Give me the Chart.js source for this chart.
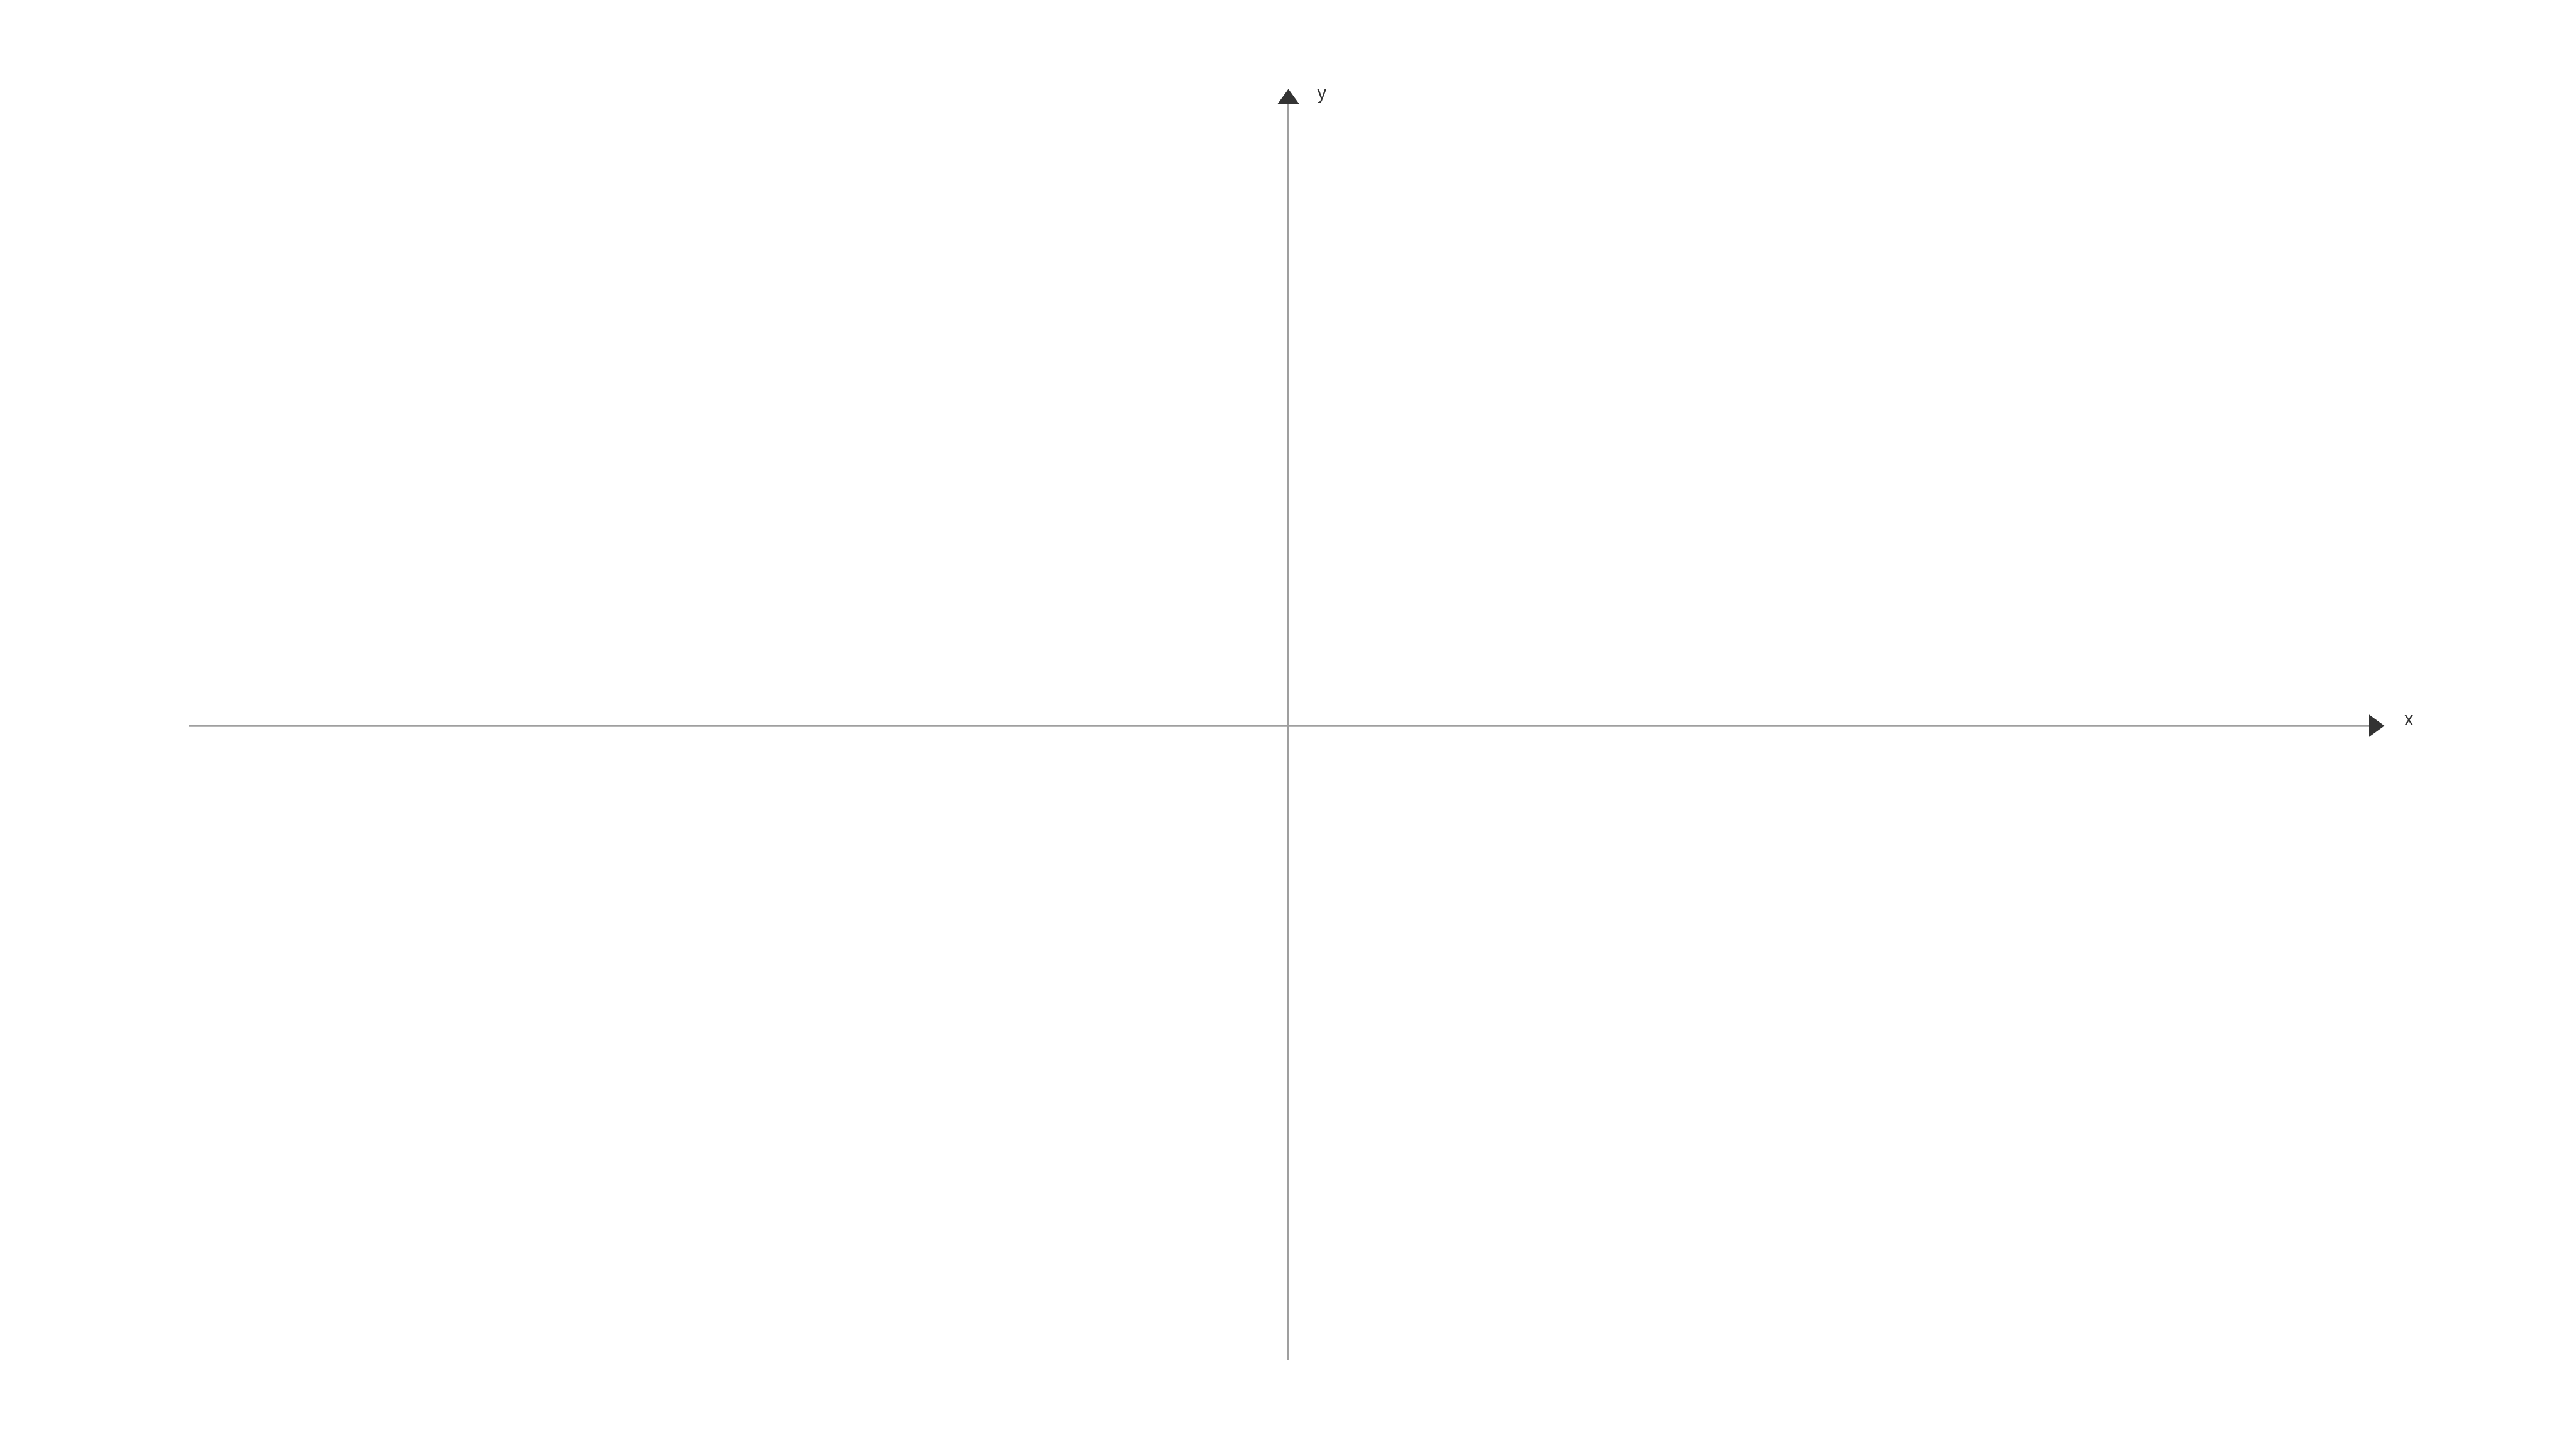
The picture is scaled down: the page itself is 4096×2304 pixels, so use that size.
<!DOCTYPE html>
<html>
<head>
<meta charset="utf-8">
<script src="https://cdn.jsdelivr.net/npm/chart.js@4/dist/chart.umd.min.js"></script>
<style>
    html, body { margin: 0; padding: 0; background: #ffffff; }
    #wrap { width: 4096px; height: 2304px; }
</style>
</head>
<body>
<div id="wrap"><canvas id="axesChart"></canvas></div>
<script>
// Axis ranges (no ticks are shown, so only the extents matter)
const xRange = [-10.17, 10];
const yRange = [-10.2, 10];
const axisNames = ['x', 'y'];
const points = [];

const colors = {
    axisLine: '#9f9f9f',
    arrow: '#333333',
    text: '#333333'
};

// arrow heads at the positive ends of both axes, plus the axis names
const arrowPlugin = {
    id: 'arrowHeads',
    afterDraw(chart) {
        const { ctx, chartArea, scales } = chart;
        const x0 = scales.x.getPixelForValue(0);
        const y0 = scales.y.getPixelForValue(0);
        const half = 17.75;
        const len = 24.5;

        ctx.save();
        ctx.fillStyle = colors.arrow;

        // y arrow
        ctx.beginPath();
        ctx.moveTo(x0, chartArea.top - len);
        ctx.lineTo(x0 - half, chartArea.top);
        ctx.lineTo(x0 + half, chartArea.top);
        ctx.closePath();
        ctx.fill();

        // x arrow
        ctx.beginPath();
        ctx.moveTo(chartArea.right + len, y0);
        ctx.lineTo(chartArea.right, y0 - half);
        ctx.lineTo(chartArea.right, y0 + half);
        ctx.closePath();
        ctx.fill();

        ctx.fillStyle = colors.text;
        ctx.font = '29px "Liberation Sans", Arial, sans-serif';
        ctx.textAlign = 'left';
        ctx.textBaseline = 'alphabetic';
        ctx.fillText(axisNames[0], chartArea.right + 56, y0 - 1);
        ctx.fillText(axisNames[1], x0 + 46, chartArea.top - 8);
        ctx.restore();
    }
};

const ctx = document.getElementById('axesChart').getContext('2d');
new Chart(ctx, {
    type: 'scatter',
    data: {
        datasets: [{
            data: points,
            pointRadius: 0
        }]
    },
    options: {
        responsive: true,
        maintainAspectRatio: false,
        devicePixelRatio: 1,
        animation: false,
        layout: {
            padding: { left: 301, right: 329, top: 166, bottom: 142 }
        },
        plugins: {
            legend: { display: false },
            tooltip: { enabled: false }
        },
        scales: {
            x: {
                type: 'linear',
                min: xRange[0],
                max: xRange[1],
                position: { y: 0 },
                grid: { display: false, drawTicks: false },
                border: { display: true, color: colors.axisLine, width: 2.8 },
                ticks: { display: false }
            },
            y: {
                type: 'linear',
                min: yRange[0],
                max: yRange[1],
                position: { x: 0 },
                grid: { display: false, drawTicks: false },
                border: { display: true, color: colors.axisLine, width: 2.8 },
                ticks: { display: false }
            }
        }
    },
    plugins: [arrowPlugin]
});
</script>
</body>
</html>
